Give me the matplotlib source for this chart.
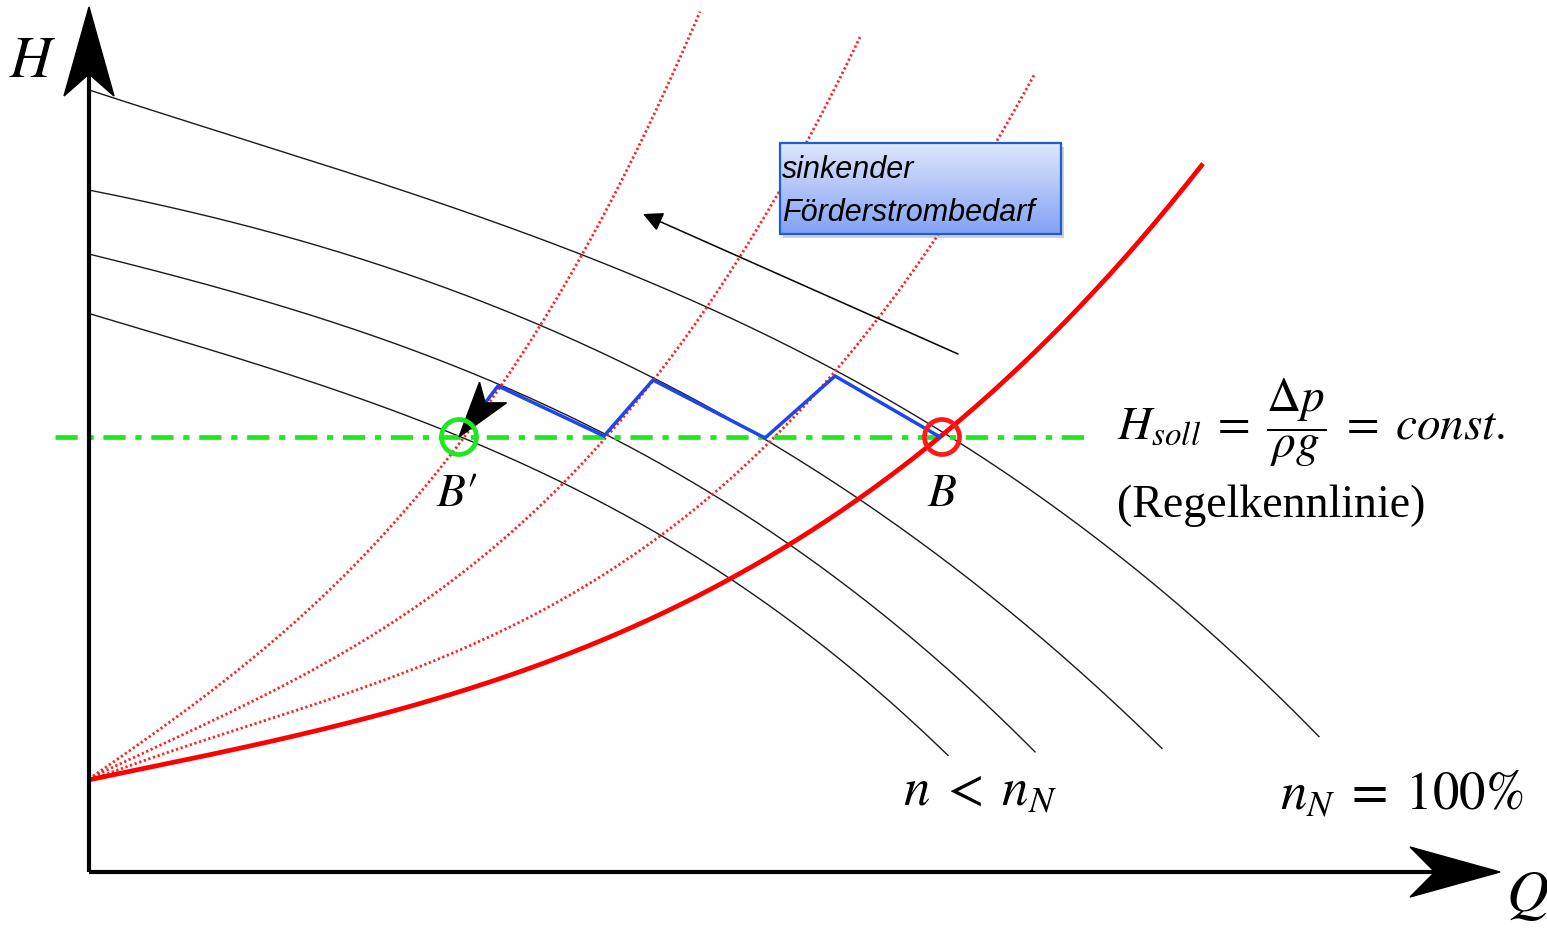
import numpy as np
import matplotlib.pyplot as plt
from matplotlib.patches import Circle, Polygon, Rectangle

plt.rcParams['mathtext.fontset'] = 'stix'
plt.rcParams['lines.scale_dashes'] = False

# pump curves H(Q) for four speeds, top one is n_N = 100 %
pump_q = [
    [0, 241, 491, 744, 851, 976, 1048, 1230],
    [0, 241, 491, 564, 678, 773, 1073],
    [0, 241, 398, 515, 701, 946],
    [0, 221, 370, 639, 711, 859],
]
pump_h = [
    [780, 710, 618, 498, 436, 356, 316, 130],
    [681, 626, 526, 492, 433, 373, 123],
    [618, 550, 495, 436, 328, 120],
    [558, 493, 433, 295, 245, 116],
]

# system curve (Anlagenkennlinie)
sys_q = [0, 151, 211, 361, 511, 639, 711, 773, 851, 971, 1114]
sys_h = [95, 121, 133, 180, 233, 295, 336, 372, 435, 541, 711]

# similarity parabolas through the control points
par_q = [
    [0, 118, 211, 358, 370, 414, 471, 494, 551, 611],
    [0, 151, 211, 361, 468, 515, 564, 618, 651, 688, 723, 771],
    [0, 151, 211, 411, 561, 676, 748, 794, 858, 911, 945],
]
par_h = [
    [95, 173, 255, 413, 433, 493, 576, 616, 723, 865],
    [95, 161, 196, 286, 390, 436, 492, 563, 613, 673, 733, 843],
    [95, 138, 161, 236, 343, 432, 501, 553, 636, 731, 813],
]

# control path from B to B'
path_q = [851, 746, 676, 564, 515, 409]
path_h = [435, 496, 434, 492, 436, 486]

h_soll = 435
point_b = (853, h_soll)
point_b2 = (370, h_soll)


def smooth(q, h, deg=3, n=300):
    c = np.polyfit(q, h, deg)
    qq = np.linspace(q[0], q[-1], n)
    return qq, np.polyval(c, qq)


def stealth(ax, tip, direction, length, half, inset, **kw):
    u = np.asarray(direction, float)
    u = u / np.hypot(*u)
    p = np.array([-u[1], u[0]])
    tip = np.asarray(tip, float)
    base = tip - length * u
    notch = tip - (length - inset) * u
    pts = [tip, base + half * p, notch, base - half * p]
    ax.add_patch(Polygon(pts, closed=True, **kw))
    return notch


fig = plt.figure(figsize=(15.47, 9.29), dpi=100)
ax = fig.add_axes([0, 0, 1, 1])

for q, h in zip(pump_q, pump_h):
    ax.plot(*smooth(q, h), color='#1a1a1a', lw=1.0, zorder=2)

for q, h in zip(par_q, par_h):
    ax.plot(*smooth(q, h), color='#ff2020', lw=2.0,
            linestyle=(0, (1.6, 1.9)), zorder=2)

ax.plot(*smooth(sys_q, sys_h), color='#ff0000', lw=3.4,
        solid_capstyle='butt', zorder=4)

# Regelkennlinie
ax.plot([-34, 1001], [h_soll, h_soll], color='#1ee81e', lw=3.4,
        linestyle=(0, (16, 7, 4.5, 7)), dash_capstyle='butt', zorder=3)

# blue control steps ending in an arrow at B'
d = (point_b2[0] - path_q[-1], point_b2[1] - path_h[-1])
notch = stealth(ax, point_b2, d, 56, 17, 13, color='black', zorder=6)
ax.plot(path_q + [notch[0]], path_h + [notch[1]], color='#1f45ec',
        lw=2.5, solid_joinstyle='miter', zorder=5)

ax.add_patch(Circle(point_b2, 17.5, fill=False, ec='#1ee81e', lw=3.4, zorder=7))
ax.add_patch(Circle(point_b, 17.5, fill=False, ec='#ff1a1a', lw=3.4, zorder=7))

# coordinate axes with arrow heads
ax.plot([0, 1346], [0, 0], color='black', lw=3.0, solid_capstyle='butt', zorder=8)
ax.plot([0, 0], [0, 798], color='black', lw=3.0, solid_capstyle='butt', zorder=8)
stealth(ax, (1411, 0), (1, 0), 90, 25, 25, color='black', zorder=8)
stealth(ax, (0, 865), (0, 1), 89, 25, 22, color='black', zorder=8)

ax.text(-56, 813, r'$H$', fontsize=42, ha='center', va='center')
ax.text(1438, -22, r'$Q$', fontsize=42, ha='center', va='center')

# text box "sinkender Förderstrombedarf"
bx0, bx1, by0, by1 = 691, 972, 638, 729
ax.add_patch(Rectangle((bx0 + 3, by0 - 4), bx1 - bx0, by1 - by0,
                       fc='#9a9a9a', ec='none', alpha=0.45, zorder=8))
top = np.array([222, 230, 252]) / 255
bottom = np.array([132, 162, 245]) / 255
t = np.linspace(0, 1, 64)[:, None, None]
grad = top * (1 - t) + bottom * t
ax.imshow(grad, extent=(bx0, bx1, by0, by1), aspect='auto',
          interpolation='bilinear', zorder=9)
ax.add_patch(Rectangle((bx0, by0), bx1 - bx0, by1 - by0, fill=False,
                       ec='#1a5ed8', lw=1.6, zorder=10))
ax.text(bx0 + 2, 703, 'sinkender', family='Liberation Sans', style='italic',
        fontsize=22, ha='left', va='center', zorder=11)
ax.text(bx0 + 2, 660, 'Förderstrombedarf', family='Liberation Sans',
        style='italic', fontsize=22, ha='left', va='center', zorder=11)

ax.annotate('', xy=(554, 658), xytext=(869, 518),
            arrowprops=dict(arrowstyle='-|>,head_length=0.6,head_width=0.3',
                            mutation_scale=20, lw=1.1, color='black',
                            shrinkA=0, shrinkB=0), zorder=6)

ax.text(368, 379, r'$B\prime$', fontsize=34, ha='center', va='center')
ax.text(853, 379, r'$B$', fontsize=34, ha='center', va='center')

ax.text(1028, 433,
        r'$H_{soll}\;=\;\dfrac{\Delta p}{\rho g}\;=\;const.$',
        fontsize=34, ha='left', va='baseline')
ax.text(1028, 356, '(Regelkennlinie)', family='Liberation Serif',
        fontsize=33, ha='left', va='baseline')

ax.text(814, 68, r'$n\;<\;n_N$', fontsize=38, ha='left', va='baseline')
ax.text(1191, 64, r'$n_N\;=\;100\%$', fontsize=38, ha='left', va='baseline')

ax.set_xlim(-89, 1458)
ax.set_ylim(-56, 873)
ax.axis('off')

fig.savefig('out.png', dpi=100)
